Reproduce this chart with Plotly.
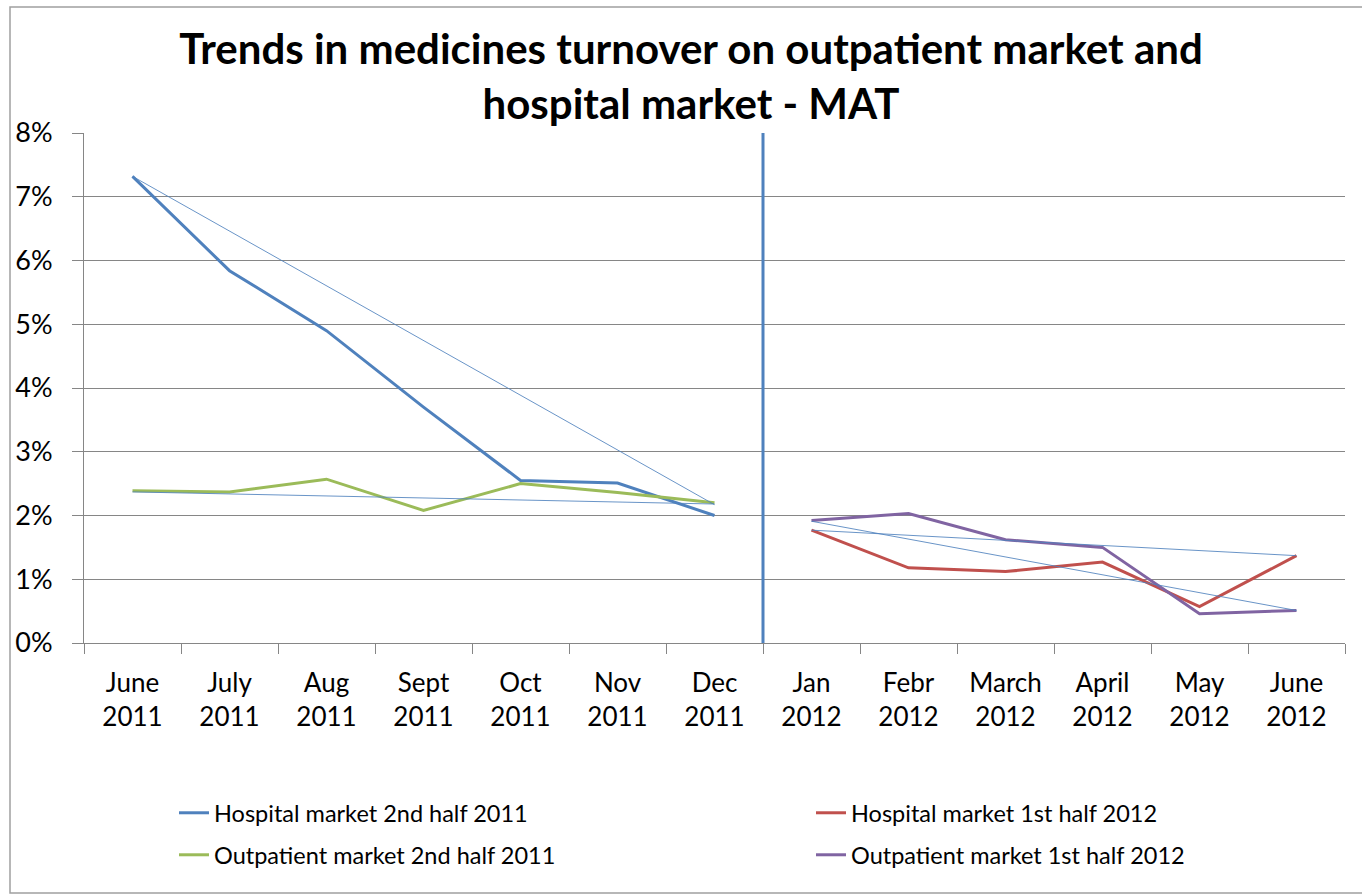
import plotly.graph_objects as go

categories = ["June<br>2011", "July<br>2011", "Aug<br>2011", "Sept<br>2011", "Oct<br>2011", "Nov<br>2011", "Dec<br>2011",
              "Jan<br>2012", "Febr<br>2012", "March<br>2012", "April<br>2012", "May<br>2012", "June<br>2012"]
cats_2011 = categories[:7]
cats_2012 = categories[7:]

hospital_2011 = [7.32, 5.84, 4.90, 3.70, 2.55, 2.51, 2.00]
outpatient_2011 = [2.39, 2.37, 2.57, 2.08, 2.50, 2.36, 2.20]
hospital_2012 = [1.77, 1.18, 1.12, 1.27, 0.57, 1.37]
outpatient_2012 = [1.92, 2.03, 1.62, 1.50, 0.46, 0.51]

# thin connector/trend lines (start and end values, %)
trend_hosp_2011 = [7.32, 2.17]
trend_out_2011 = [2.37, 2.18]
trend_hosp_2012 = [1.77, 1.37]
trend_out_2012 = [1.91, 0.51]

y_ticks = [0, 1, 2, 3, 4, 5, 6, 7, 8]

BLUE = "#4F81BD"
RED = "#C0504D"
GREEN = "#9BBB59"
PURPLE = "#8064A2"
TREND = "rgba(79,129,189,0.85)"
FONT = "Lato"

W, H = 1362, 894
ML, MR, MT, MB = 84, 17, 133, 251
PW, PH = W - ML - MR, H - MT - MB


def px_x(p):
    return (p - ML) / PW


def px_y(p):
    return (H - MB - p) / PH


def pct(vals):
    return [v / 100 for v in vals]


fig = go.Figure()

fig.add_trace(go.Scatter(x=cats_2011, y=pct(hospital_2011), mode="lines", name="Hospital market 2nd half 2011",
                         line=dict(color=BLUE, width=3), legend="legend"))
fig.add_trace(go.Scatter(x=cats_2012, y=pct(hospital_2012), mode="lines", name="Hospital market 1st half 2012",
                         line=dict(color=RED, width=3), legend="legend2"))
fig.add_trace(go.Scatter(x=cats_2011, y=pct(outpatient_2011), mode="lines", name="Outpatient market 2nd half 2011",
                         line=dict(color=GREEN, width=3), legend="legend3"))
fig.add_trace(go.Scatter(x=cats_2012, y=pct(outpatient_2012), mode="lines", name="Outpatient market 1st half 2012",
                         line=dict(color=PURPLE, width=3), legend="legend4"))

for xs, ys in [([cats_2011[0], cats_2011[-1]], trend_hosp_2011),
               ([cats_2011[0], cats_2011[-1]], trend_out_2011),
               ([cats_2012[0], cats_2012[-1]], trend_hosp_2012),
               ([cats_2012[0], cats_2012[-1]], trend_out_2012)]:
    fig.add_trace(go.Scatter(x=xs, y=pct(ys), mode="lines", showlegend=False,
                             line=dict(color=TREND, width=1), hoverinfo="skip"))

divider_x = categories.index("Jan<br>2012") - 0.5
fig.add_shape(type="line", xref="x", yref="y", x0=divider_x, x1=divider_x, y0=0, y1=y_ticks[-1] / 100,
              line=dict(color=BLUE, width=3), layer="above")

# chart border
fig.add_shape(type="rect", xref="paper", yref="paper",
              x0=px_x(10), x1=px_x(1372), y0=px_y(893), y1=px_y(7),
              line=dict(color="#A0A0A0", width=1.5), fillcolor="rgba(0,0,0,0)", layer="below")

leg_font = dict(size=23.5, family=FONT, color="#000000")


def leg(xp, yp):
    return dict(orientation="h", x=px_x(xp), xanchor="left", y=px_y(yp), yanchor="middle",
                font=leg_font, bgcolor="rgba(0,0,0,0)")


fig.update_layout(
    width=W, height=H,
    margin=dict(l=ML, r=MR, t=MT, b=MB),
    paper_bgcolor="white", plot_bgcolor="white",
    font=dict(family=FONT, color="#000000"),
    title=dict(text="<b>Trends in medicines turnover on outpatient market and<br>hospital market - MAT</b>",
               x=0.5 + 10 / W, xref="container", xanchor="center", y=1 - 64 / H, yref="container", yanchor="middle",
               font=dict(size=42, family=FONT, color="#000000")),
    xaxis=dict(type="category", categoryorder="array", categoryarray=categories,
               range=[-0.5, len(categories) - 0.5],
               showline=True, linecolor="#868686", linewidth=1,
               ticks="outside", tickson="boundaries", ticklen=10, tickcolor="#868686",
               showgrid=False, tickfont=dict(size=26, family=FONT, color="#000000"),
               ticklabelstandoff=17),
    yaxis=dict(range=[0, 0.08], tickvals=[v / 100 for v in y_ticks], tickformat=".0%",
               showline=True, linecolor="#868686", linewidth=1,
               ticks="outside", ticklen=11, tickcolor="#868686",
               showgrid=True, gridcolor="#868686", gridwidth=1, zeroline=False,
               tickfont=dict(size=27, family=FONT, color="#000000"), ticklabelstandoff=14),
    legend=leg(174, 813),
    legend2=leg(811, 813),
    legend3=leg(174, 855),
    legend4=leg(811, 855),
    showlegend=True,
)

fig.write_html("out.html", config={"displayModeBar": False},
               post_script="document.body.style.margin='0';document.body.style.padding='0';")
